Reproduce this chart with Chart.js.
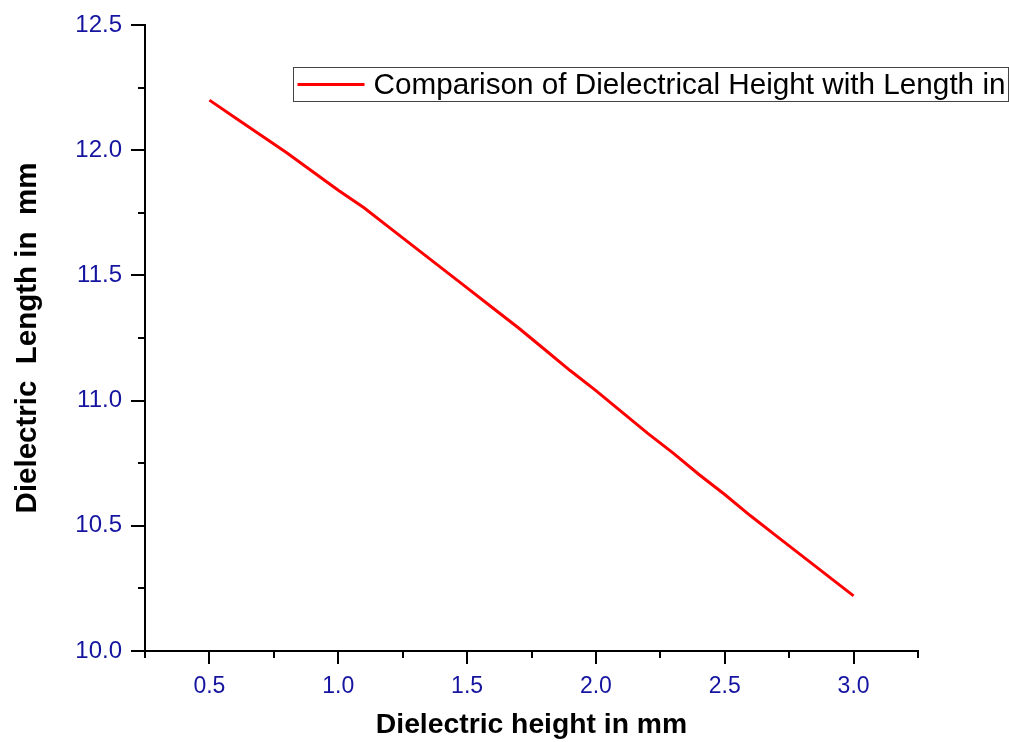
<!DOCTYPE html>
<html>
<head>
<meta charset="utf-8">
<script src="https://cdn.jsdelivr.net/npm/chart.js@4/dist/chart.umd.min.js"></script>
<style>
	body { margin: 0; background: #ffffff; }
	#chartDiv { width: 1009px; height: 742px; }
</style>
</head>
<body>
<div id="chartDiv"><canvas id="chart-0"></canvas></div>
<script>
//dielectric height (mm) and matching length (mm)
var heights = [0.5, 0.6, 0.7, 0.8, 0.9, 1.0, 1.1, 1.2, 1.3, 1.4, 1.5, 1.6, 1.7,
	1.8, 1.9, 2.0, 2.1, 2.2, 2.3, 2.4, 2.5, 2.6, 2.7, 2.8, 2.9, 3.0];
var lengths = [12.20, 12.13, 12.06, 11.99, 11.915, 11.84, 11.77, 11.69, 11.61, 11.53, 11.45, 11.37, 11.29,
	11.205, 11.12, 11.04, 10.955, 10.87, 10.79, 10.705, 10.625, 10.54, 10.46, 10.38, 10.30, 10.22];

var xMajorTicks = [0.5, 1.0, 1.5, 2.0, 2.5, 3.0];
var xMinorTicks = [0.25, 0.75, 1.25, 1.75, 2.25, 2.75, 3.25];
var yMajorTicks = [10.0, 10.5, 11.0, 11.5, 12.0, 12.5];
var yMinorTicks = [10.25, 10.75, 11.25, 11.75, 12.25];

var seriesLabel = "Comparison of Dielectrical Height with Length in";
var xTitle = "Dielectric height in mm";
var yTitle = "Dielectric  Length in  mm";

var tickBlue = "#1414a0";
var fontFamily = "'Liberation Sans', Arial, sans-serif";

var points = [];
for (var i = 0; i < heights.length; i++) {
	points.push({x: heights[i], y: lengths[i]});
}

//short ticks between the labelled ones
var minorTicks = {
	id: "minorTicks",
	afterDraw: function(chart) {
		var ctx = chart.ctx;
		var xs = chart.scales.x;
		var ys = chart.scales.y;
		ctx.save();
		ctx.strokeStyle = "#000000";
		ctx.lineWidth = 2;
		ctx.beginPath();
		for (var k = 0; k < xMinorTicks.length; k++) {
			var px = Math.round(xs.getPixelForValue(xMinorTicks[k]));
			ctx.moveTo(px, ys.bottom);
			ctx.lineTo(px, ys.bottom + 7);
		}
		for (var k = 0; k < yMinorTicks.length; k++) {
			var py = Math.round(ys.getPixelForValue(yMinorTicks[k]));
			ctx.moveTo(xs.left, py);
			ctx.lineTo(xs.left - 7, py);
		}
		ctx.stroke();
		ctx.restore();
	}
};

//boxed legend sitting over the top right of the plot
var boxLegend = {
	id: "boxLegend",
	afterDraw: function(chart) {
		var ctx = chart.ctx;
		var area = chart.chartArea;
		var left = area.left + 148.5;
		var top = area.top + 42.5;
		ctx.save();
		ctx.font = "29.7px " + fontFamily;
		var textWidth = ctx.measureText(seriesLabel).width;
		var boxWidth = 80 + textWidth + 3;
		ctx.strokeStyle = "#444444";
		ctx.lineWidth = 1;
		ctx.strokeRect(left, top, boxWidth, 34);
		ctx.strokeStyle = "#ff0000";
		ctx.lineWidth = 3;
		ctx.beginPath();
		ctx.moveTo(left + 4, top + 17);
		ctx.lineTo(left + 71, top + 17);
		ctx.stroke();
		ctx.fillStyle = "#000000";
		ctx.textBaseline = "middle";
		ctx.fillText(seriesLabel, left + 80, top + 18);
		ctx.restore();
	}
};

var ctx = document.getElementById("chart-0").getContext("2d");

var myChart = new Chart(ctx, {
	type: "line",
	data: {
		datasets: [{
			label: seriesLabel,
			data: points,
			borderColor: "#ff0000",
			borderWidth: 3,
			pointRadius: 0,
			fill: false,
			tension: 0
		}]
	},
	options: {
		responsive: true,
		maintainAspectRatio: false,
		animation: false,
		layout: {
			padding: {left: 0, right: 91, top: 25, bottom: 0}
		},
		plugins: {
			legend: {display: false},
			tooltip: {enabled: false}
		},
		scales: {
			x: {
				type: "linear",
				min: 0.25,
				max: 3.25,
				afterBuildTicks: function(scale) {
					scale.ticks = xMajorTicks.map(function(v) { return {value: v}; });
				},
				afterFit: function(scale) {
					scale.height = 91;
				},
				grid: {
					drawOnChartArea: false,
					drawTicks: true,
					tickLength: 13,
					lineWidth: 2,
					color: "#000000"
				},
				border: {color: "#000000", width: 2},
				ticks: {
					color: tickBlue,
					padding: 9,
					maxRotation: 0,
					font: {family: fontFamily, size: 23},
					callback: function(v) { return Number(v).toFixed(1); }
				},
				title: {
					display: true,
					text: xTitle,
					color: "#000000",
					padding: {top: 0, bottom: 0},
					font: {family: fontFamily, size: 28.3, weight: "bold"}
				}
			},
			y: {
				type: "linear",
				min: 10.0,
				max: 12.5,
				afterBuildTicks: function(scale) {
					scale.ticks = yMajorTicks.map(function(v) { return {value: v}; });
				},
				afterFit: function(scale) {
					scale.width = 145;
				},
				grid: {
					drawOnChartArea: false,
					drawTicks: true,
					tickLength: 14,
					lineWidth: 2,
					color: "#000000"
				},
				border: {color: "#000000", width: 2},
				ticks: {
					color: tickBlue,
					padding: 9,
					font: {family: fontFamily, size: 24},
					callback: function(v) { return Number(v).toFixed(1); }
				},
				title: {
					display: true,
					text: yTitle,
					color: "#000000",
					padding: {top: 10, bottom: 0},
					font: {family: fontFamily, size: 29.5, weight: "bold"}
				}
			}
		}
	},
	plugins: [minorTicks, boxLegend]
});
</script>
</body>
</html>
